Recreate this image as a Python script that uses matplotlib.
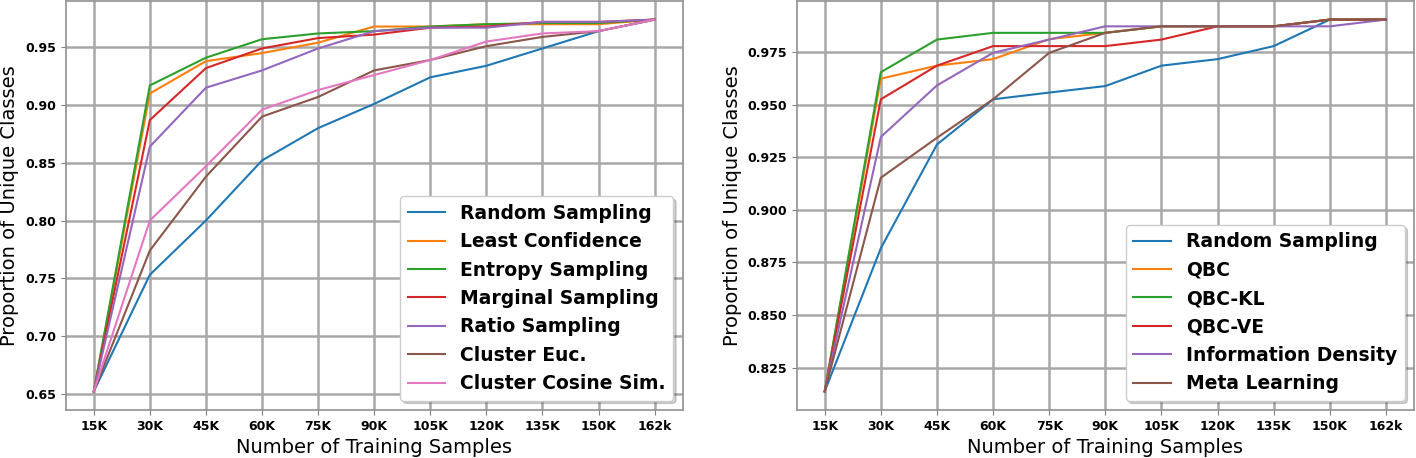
#! /usr/bin/env python
"""
Proportion of unique classes vs number of training samples,
two panels: uncertainty/cluster sampling (left), committee based (right).
"""
import numpy as np
import matplotlib
matplotlib.use("Agg")
import matplotlib.pyplot as plt

samples = ['15K', '30K', '45K', '60K', '75K', '90K', '105K', '120K', '135K', '150K', '162k']

# Left panel
left_names = ['Random Sampling', 'Least Confidence', 'Entropy Sampling', 'Marginal Sampling',
              'Ratio Sampling', 'Cluster Euc.', 'Cluster Cosine Sim.']
random_l = [0.652, 0.753, 0.800, 0.852, 0.880, 0.901, 0.924, 0.934, 0.949, 0.964, 0.974]
least_conf = [0.652, 0.910, 0.938, 0.945, 0.954, 0.968, 0.968, 0.970, 0.970, 0.970, 0.974]
entropy = [0.652, 0.917, 0.941, 0.957, 0.962, 0.964, 0.968, 0.970, 0.971, 0.971, 0.974]
marginal = [0.652, 0.887, 0.932, 0.949, 0.958, 0.961, 0.967, 0.968, 0.972, 0.972, 0.974]
ratio = [0.652, 0.864, 0.915, 0.930, 0.949, 0.964, 0.967, 0.967, 0.972, 0.972, 0.974]
cluster_euc = [0.652, 0.774, 0.838, 0.890, 0.907, 0.930, 0.939, 0.951, 0.959, 0.964, 0.974]
cluster_cos = [0.652, 0.800, 0.847, 0.896, 0.913, 0.926, 0.939, 0.955, 0.962, 0.964, 0.974]

# Right panel
right_names = ['Random Sampling', 'QBC', 'QBC-KL', 'QBC-VE', 'Information Density', 'Meta Learning']
random_r = [0.8137, 0.8818, 0.9311, 0.9526, 0.9558, 0.9589, 0.9686, 0.9717, 0.9779, 0.9905, 0.9905]
qbc = [0.8137, 0.9624, 0.9686, 0.9717, 0.9812, 0.9842, 0.9873, 0.9873, 0.9873, 0.9905, 0.9905]
qbc_kl = [0.8137, 0.9655, 0.9810, 0.9842, 0.9842, 0.9842, 0.9873, 0.9873, 0.9873, 0.9905, 0.9905]
qbc_ve = [0.8137, 0.9526, 0.9686, 0.9779, 0.9779, 0.9779, 0.9810, 0.9873, 0.9873, 0.9905, 0.9905]
info_density = [0.8137, 0.9347, 0.9592, 0.9747, 0.9810, 0.9873, 0.9873, 0.9873, 0.9873, 0.9873, 0.9905]
meta_learning = [0.8137, 0.9153, 0.9343, 0.9526, 0.9747, 0.9842, 0.9873, 0.9873, 0.9873, 0.9905, 0.9905]

left_series = [random_l, least_conf, entropy, marginal, ratio, cluster_euc, cluster_cos]
right_series = [random_r, qbc, qbc_kl, qbc_ve, info_density, meta_learning]

fig = plt.figure(figsize=(14.16, 4.58), dpi=100)
ax1 = fig.add_axes([0.0464, 0.1048, 0.4357, 0.893])
ax2 = fig.add_axes([0.5626, 0.1048, 0.4360, 0.893])

x = np.arange(len(samples))

for ax, names, series in [(ax1, left_names, left_series), (ax2, right_names, right_series)]:
    for name, y in zip(names, series):
        ax.plot(x, y, lw=1.5, label=name)
    ax.set_xticks(x)
    ax.set_xticklabels(samples)
    ax.grid(True, color='#a8a8a8', lw=1.8)
    for lab in ax.get_xticklabels() + ax.get_yticklabels():
        lab.set_fontweight('bold')
        lab.set_fontsize(9)
    ax.tick_params(color='#808080')
    for s in ax.spines.values():
        s.set_color('#909090')
        s.set_linewidth(1.2)
    ax.set_xlabel('Number of Training Samples', fontsize=14)
    ax.set_ylabel('Proportion of Unique Classes', fontsize=14)
    ax.legend(loc='lower right', shadow={'alpha': 0.25}, framealpha=1,
              prop={'weight': 'bold', 'size': 13.5})

fig.savefig('out.png', dpi=100)
